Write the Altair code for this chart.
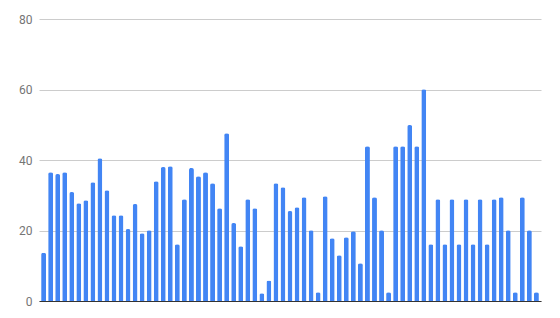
import altair as alt
import pandas as pd

values = [13.7, 36.5, 36.0, 36.5, 30.9, 27.7, 28.6, 33.7, 40.5, 31.4,
          24.3, 24.3, 20.4, 27.5, 19.2, 20.1, 34.0, 38.0, 38.2, 16.1,
          28.9, 37.7, 35.4, 36.5, 33.4, 26.3, 47.6, 22.1, 15.5, 28.9,
          26.3, 2.2, 5.8, 33.4, 32.3, 25.5, 26.6, 29.4, 20.1, 2.5,
          29.7, 17.8, 13.0, 18.1, 19.8, 10.7, 43.9, 29.4, 20.1, 2.5,
          43.9, 43.9, 49.9, 43.9, 60.1, 16.1, 28.9, 16.1, 28.9, 16.1,
          28.9, 16.1, 28.9, 16.1, 28.9, 29.4, 20.1, 2.5, 29.4, 20.1,
          2.5]
categories = list(range(1, len(values) + 1))
y_ticks = [0, 20, 40, 60, 80]

df = pd.DataFrame({"cat": categories, "value": values})

chart = alt.Chart(df).mark_bar(
    color="#4285F4",
    cornerRadiusTopLeft=2,
    cornerRadiusTopRight=2,
).encode(
    x=alt.X("cat:O", title=None,
            scale=alt.Scale(paddingInner=0.3, paddingOuter=0.3),
            axis=alt.Axis(labels=False, ticks=False, domain=True,
                          domainColor="#333333", domainWidth=1, grid=False)),
    y=alt.Y("value:Q", title=None,
            scale=alt.Scale(domain=[0, 80], nice=False),
            axis=alt.Axis(values=y_ticks, domain=False, ticks=False,
                          gridColor="#cccccc", labelColor="#757575",
                          labelFont="Roboto", labelFontSize=12,
                          labelPadding=7)),
).properties(
    width=502, height=282,
    autosize=alt.AutoSizeParams(type="none"),
    padding={"left": 31, "top": 11, "right": 10, "bottom": 10},
).configure_view(stroke=None)

chart.save("out.html", embed_options={"renderer": "svg", "actions": False})
